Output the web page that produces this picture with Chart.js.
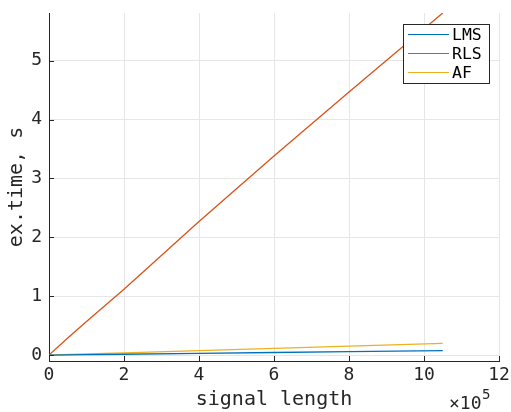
<!DOCTYPE html>
<html>
<head>
<meta charset="utf-8">
<script src="https://cdn.jsdelivr.net/npm/chart.js@4/dist/chart.umd.min.js"></script>
<style>
  html, body { margin: 0; padding: 0; background: #fff; }
  #wrap { width: 511px; height: 412px; }
</style>
</head>
<body>
<div id="wrap"><canvas id="timeChart" width="511" height="412"></canvas></div>
<script>
// signal length values (samples) and execution times (s)
const signalLen = [0, 50000, 100000, 200000, 400000, 600000, 800000, 1050000];
const lmsTime = [0, 0.004, 0.008, 0.015, 0.029, 0.044, 0.058, 0.075];
const rlsTime = [0, 0.29, 0.57, 1.12, 2.27, 3.38, 4.47, 5.81];
const afTime = [0, 0.01, 0.02, 0.038, 0.076, 0.114, 0.152, 0.2];

const seriesNames = ["LMS", "RLS", "AF"];
const xTicks = [0, 200000, 400000, 600000, 800000, 1000000, 1200000];
const yTicks = [0, 1, 2, 3, 4, 5];

const axisColor = "#262626";
const mono = "'DejaVu Sans Mono', monospace";

function toPoints(ys) {
    return signalLen.map((x, i) => ({ x: x, y: ys[i] }));
}

// MATLAB style ticks pointing into the plot
const innerTicks = {
    id: "innerTicks",
    afterDraw(chart) {
        const ctx = chart.ctx;
        const xs = chart.scales.x, ys = chart.scales.y;
        const area = chart.chartArea;
        ctx.save();
        ctx.strokeStyle = axisColor;
        ctx.lineWidth = 1;
        ctx.beginPath();
        xTicks.forEach(v => {
            const px = Math.round(xs.getPixelForValue(v)) + 0.5;
            ctx.moveTo(px, area.bottom);
            ctx.lineTo(px, area.bottom - 5);
        });
        yTicks.forEach(v => {
            const py = Math.round(ys.getPixelForValue(v)) + 0.5;
            ctx.moveTo(area.left, py);
            ctx.lineTo(area.left + 5, py);
        });
        ctx.stroke();

        // exponent label
        ctx.fillStyle = axisColor;
        ctx.textBaseline = "alphabetic";
        ctx.textAlign = "left";
        ctx.font = "18px " + mono;
        ctx.fillText("\u00d710", 449, 409);
        ctx.font = "14px " + mono;
        ctx.fillText("5", 482, 399);
        ctx.restore();
    }
};

// legend box in the top right corner
const boxLegend = {
    id: "boxLegend",
    afterDraw(chart) {
        const ctx = chart.ctx;
        const left = 403, top = 24, w = 86, h = 59;
        ctx.save();
        ctx.fillStyle = "#fff";
        ctx.fillRect(left, top, w, h);
        ctx.strokeStyle = axisColor;
        ctx.lineWidth = 1;
        ctx.strokeRect(left + 0.5, top + 0.5, w, h);
        ctx.font = "16.5px " + mono;
        ctx.textBaseline = "middle";
        ctx.textAlign = "left";
        chart.data.datasets.forEach((ds, i) => {
            const y = top + 10.5 + i * 19;
            ctx.strokeStyle = ds.borderColor;
            ctx.beginPath();
            ctx.moveTo(left + 5, y);
            ctx.lineTo(left + 46, y);
            ctx.stroke();
            ctx.fillStyle = "#000";
            ctx.fillText(ds.label, left + 49, y + 1);
        });
        ctx.restore();
    }
};

new Chart(document.getElementById("timeChart").getContext("2d"), {
    type: "line",
    data: {
        datasets: [
            { label: seriesNames[0], data: toPoints(lmsTime), borderColor: "#0072BD" },
            { label: seriesNames[1], data: toPoints(rlsTime), borderColor: "#D95319" },
            { label: seriesNames[2], data: toPoints(afTime), borderColor: "#EDB120" }
        ]
    },
    options: {
        responsive: false,
        animation: false,
        devicePixelRatio: 1,
        layout: { padding: { top: 13, right: 12, left: 0, bottom: 0 } },
        elements: {
            point: { radius: 0 },
            line: { borderWidth: 1.3, tension: 0 }
        },
        plugins: {
            legend: { display: false },
            tooltip: { enabled: false }
        },
        scales: {
            x: {
                type: "linear",
                min: 0,
                max: 1200000,
                afterBuildTicks: s => { s.ticks = xTicks.map(v => ({ value: v })); },
                afterFit: s => { s.height = 51; s.paddingLeft = 0; s.paddingRight = 0; },
                ticks: {
                    color: axisColor,
                    font: { family: mono, size: 18 },
                    padding: 4,
                    maxRotation: 0,
                    callback: v => String(v / 100000)
                },
                grid: { color: "#e6e6e6", drawTicks: false },
                border: { color: axisColor, width: 1 },
                title: {
                    display: true,
                    text: "signal length",
                    color: axisColor,
                    font: { family: mono, size: 20 },
                    padding: { top: 8, bottom: 0 }
                }
            },
            y: {
                min: -0.1,
                max: 5.81,
                afterBuildTicks: s => { s.ticks = yTicks.map(v => ({ value: v })); },
                afterFit: s => { s.width = 49; s.paddingTop = 0; s.paddingBottom = 0; },
                ticks: {
                    color: axisColor,
                    font: { family: mono, size: 18 },
                    padding: 7
                },
                grid: { color: "#e6e6e6", drawTicks: false },
                border: { color: axisColor, width: 1 },
                title: {
                    display: true,
                    text: "ex.time, s",
                    color: axisColor,
                    font: { family: mono, size: 20 },
                    padding: { top: 5, bottom: 0 }
                }
            }
        }
    },
    plugins: [innerTicks, boxLegend]
});
</script>
</body>
</html>
